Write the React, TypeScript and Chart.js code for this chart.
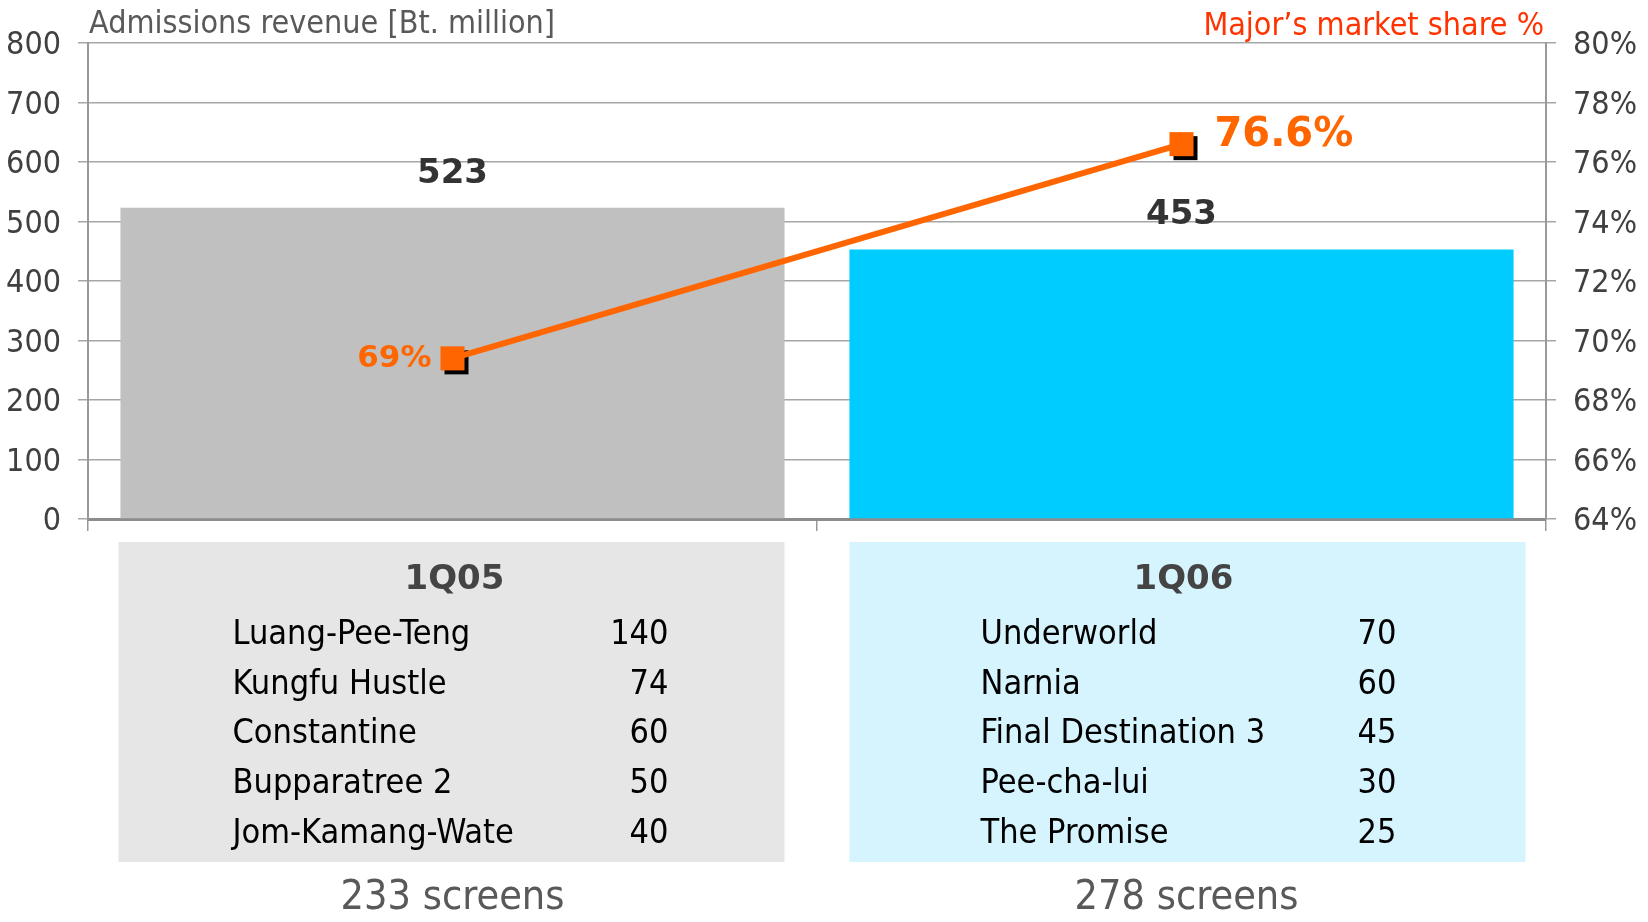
import React, { useEffect, useRef } from "react";
import { Chart, registerables } from "chart.js";

Chart.register(...registerables);

// ---------- data ----------
const categories = ["1Q05", "1Q06"];
const revenue = [523, 453];
const marketShare = [69.4, 76.6];
const shareLabels = ["69%", "76.6%"];
const screens = [233, 278];
const films1Q05 = ["Luang-Pee-Teng", "Kungfu Hustle", "Constantine", "Bupparatree 2", "Jom-Kamang-Wate"];
const gross1Q05 = [140, 74, 60, 50, 40];
const films1Q06 = ["Underworld", "Narnia", "Final Destination 3", "Pee-cha-lui", "The Promise"];
const gross1Q06 = [70, 60, 45, 30, 25];
const filmTables = [films1Q05, films1Q06];
const grossTables = [gross1Q05, gross1Q06];

const leftTitle = "Admissions revenue [Bt. million]";
const rightTitle = "Major\u2019s market share %";

// ---------- style ----------
const W = 1648;
const H = 922;
const SANS = "'DejaVu Sans Condensed', 'Liberation Sans', sans-serif";
const BOLD = "'DejaVu Sans', 'Liberation Sans', sans-serif";
const BOX_STYLE = [
  { l: -334, r: 332, fill: "#e6e6e6", nameX: -220, valX: 216, titleX: 2, scrX: 0 },
  { l: -332, r: 344, fill: "#d5f4fe", nameX: -201, valX: 215, titleX: 2, scrX: 5 },
];

const overlayPlugin = {
  id: "overlay",
  afterDatasetDraw(chart: any, args: any) {
    // black shadow behind line markers, drawn after the bars and before the line
    if (args.index !== 1) return;
    const ctx = chart.ctx;
    const meta = chart.getDatasetMeta(0);
    ctx.save();
    ctx.fillStyle = "#000000";
    meta.data.forEach((pt: any) => {
      ctx.fillRect(pt.x - 12 + 4, pt.y - 12 + 4, 24, 24);
    });
    ctx.restore();
  },
  afterDraw(chart: any) {
    const ctx = chart.ctx;
    const area = chart.chartArea;
    const xs = chart.scales.x;
    ctx.save();

    // axis titles
    ctx.textBaseline = "middle";
    ctx.font = `32px ${SANS}`;
    ctx.fillStyle = "#595959";
    ctx.textAlign = "left";
    ctx.fillText(leftTitle, 89, 25);
    ctx.fillStyle = "#ff3300";
    ctx.textAlign = "right";
    ctx.fillText(rightTitle, 1544, 27);

    // bar value labels
    const barMeta = chart.getDatasetMeta(1);
    ctx.font = `bold 34px ${BOLD}`;
    ctx.fillStyle = "#333333";
    ctx.textAlign = "center";
    barMeta.data.forEach((bar: any, i: number) => {
      ctx.fillText(String(revenue[i]), bar.x, bar.y - 34);
    });

    // line labels
    const lineMeta = chart.getDatasetMeta(0);
    ctx.fillStyle = "#ff6600";
    lineMeta.data.forEach((pt: any, i: number) => {
      if (i === 0) {
        ctx.font = `bold 31px ${BOLD}`;
        ctx.textAlign = "right";
        ctx.fillText(shareLabels[i], pt.x - 21, pt.y + 1);
      } else {
        ctx.font = `bold 40px ${BOLD}`;
        ctx.textAlign = "left";
        ctx.fillText(shareLabels[i], pt.x + 33, pt.y - 9);
      }
    });

    // tables below the axis
    const b = area.bottom;
    categories.forEach((cat, i) => {
      const cx = xs.getPixelForValue(i);
      const st = BOX_STYLE[i];
      ctx.fillStyle = st.fill;
      ctx.fillRect(cx + st.l, b + 23, st.r - st.l, 320);

      ctx.font = `bold 34px ${BOLD}`;
      ctx.fillStyle = "#444444";
      ctx.textAlign = "center";
      ctx.fillText(cat, cx + st.titleX, b + 61);

      ctx.font = `34px ${SANS}`;
      ctx.fillStyle = "#000000";
      filmTables[i].forEach((name, r) => {
        const y = b + 116 + r * 49.7;
        ctx.textAlign = "left";
        ctx.fillText(name, cx + st.nameX, y);
        ctx.textAlign = "right";
        ctx.fillText(String(grossTables[i][r]), cx + st.valX, y);
      });

      ctx.font = `41px ${SANS}`;
      ctx.fillStyle = "#595959";
      ctx.textAlign = "center";
      ctx.fillText(`${screens[i]} screens`, cx + st.scrX, b + 379);
    });

    ctx.restore();
  },
};

export default function App() {
  const ref = useRef<HTMLCanvasElement | null>(null);

  useEffect(() => {
    if (!ref.current) return;
    const chart = new Chart(ref.current, {
      type: "bar",
      data: {
        labels: categories,
        datasets: [
          {
            type: "line",
            label: "Market share",
            data: marketShare,
            yAxisID: "y1",
            order: 0,
            borderColor: "#ff6600",
            borderWidth: 6,
            pointStyle: "rect",
            pointRadius: 17,
            pointHoverRadius: 17,
            pointBackgroundColor: "#ff6600",
            pointBorderWidth: 0,
            tension: 0,
          } as any,
          {
            type: "bar",
            label: "Admissions revenue",
            data: revenue,
            yAxisID: "y",
            order: 1,
            backgroundColor: ["#c0c0c0", "#00ccff"],
            categoryPercentage: 1,
            barPercentage: 0.911,
          } as any,
        ],
      },
      options: {
        responsive: false,
        animation: false,
        devicePixelRatio: 1,
        layout: { padding: { top: 43, left: 0, right: 0, bottom: 0 } },
        plugins: {
          legend: { display: false },
          tooltip: { enabled: false },
          title: { display: false },
        },
        scales: {
          x: {
            afterFit: (s: any) => {
              s.height = H - 519;
            },
            ticks: { display: false },
            grid: {
              offset: true,
              drawOnChartArea: false,
              drawTicks: true,
              tickLength: 12,
              color: "#999999",
              lineWidth: 1.5,
            },
            border: { display: true, color: "#8c8c8c", width: 3 },
          },
          y: {
            position: "left",
            min: 0,
            max: 800,
            afterFit: (s: any) => {
              s.width = 88;
            },
            ticks: {
              stepSize: 100,
              padding: 17,
              labelOffset: 3,
              color: "#404040",
              font: { family: SANS, size: 32 },
            },
            grid: {
              color: "#a6a6a6",
              lineWidth: 1.5,
              tickLength: 10,
            },
            border: { display: true, color: "#999999", width: 2 },
          },
          y1: {
            position: "right",
            min: 64,
            max: 80,
            afterFit: (s: any) => {
              s.width = W - 1546;
            },
            ticks: {
              stepSize: 2,
              padding: 17,
              labelOffset: 3,
              color: "#404040",
              font: { family: SANS, size: 32 },
              callback: (v: any) => `${v}%`,
            },
            grid: {
              drawOnChartArea: false,
              color: "#a6a6a6",
              lineWidth: 1.5,
              tickLength: 10,
            },
            border: { display: true, color: "#999999", width: 2 },
          },
        },
      },
      plugins: [overlayPlugin],
    });
    return () => chart.destroy();
  }, []);

  return (
    <div style={{ position: "absolute", left: 0, top: 0, width: W, height: H, background: "#ffffff" }}>
      <canvas ref={ref} width={W} height={H} style={{ display: "block", width: W, height: H }} />
    </div>
  );
}
